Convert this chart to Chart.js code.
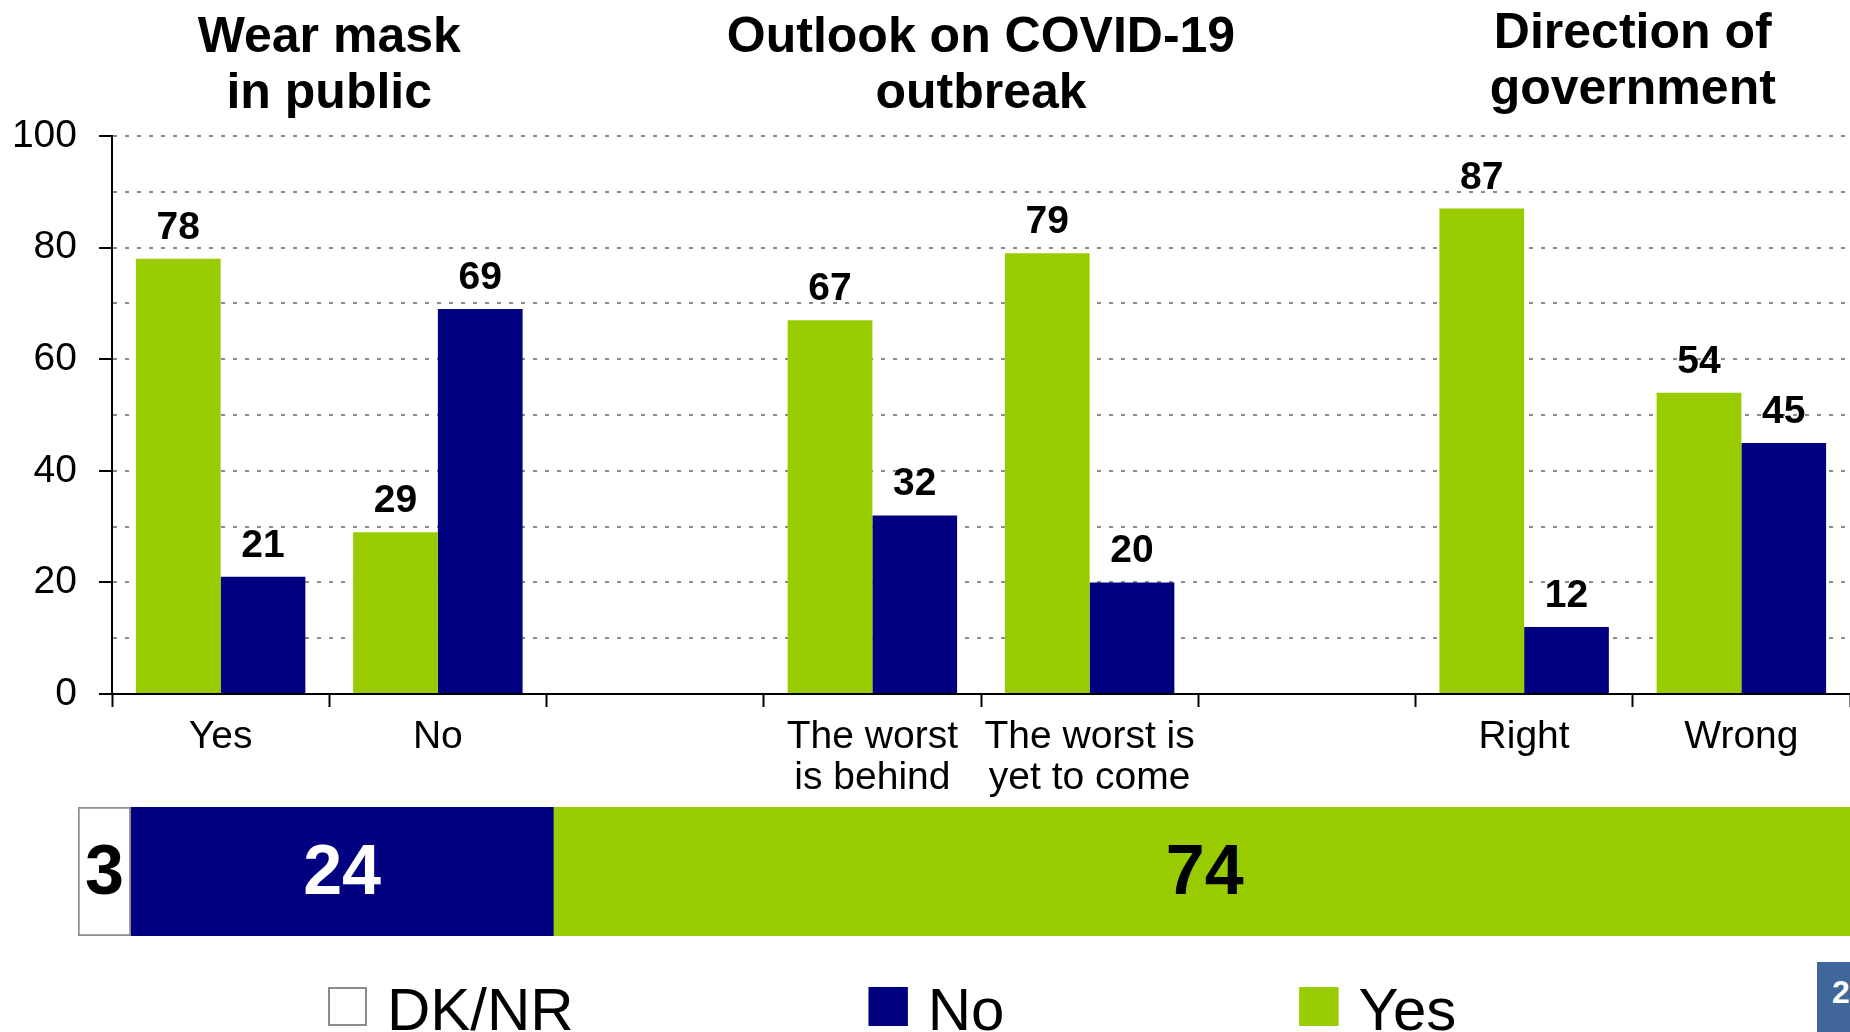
<!DOCTYPE html>
<html>
<head>
<meta charset="utf-8">
<title>COVID-19 survey</title>
<script src="https://cdn.jsdelivr.net/npm/chart.js@4.4.1/dist/chart.umd.min.js"></script>
<style>
  html, body { margin: 0; padding: 0; background: #fff; overflow: hidden; width: 1850px; height: 1032px; }
  #top-wrap { position: absolute; left: 0; top: 0; width: 1850px; height: 800px; }
  #bottom-wrap { position: absolute; left: 0; top: 790px; width: 1856px; height: 242px; }
  #page-num {
    position: absolute; left: 1817px; top: 962px; width: 60px; height: 70px;
    background: #41679a; color: #fff; font: bold 32px "Liberation Sans", Arial, sans-serif;
    padding-left: 15px; padding-top: 12px; box-sizing: border-box;
  }
</style>
</head>
<body>
<div id="top-wrap"><canvas id="groups" width="1850" height="800"></canvas></div>
<div id="bottom-wrap"><canvas id="overall" width="1856" height="242"></canvas></div>
<div id="page-num">2</div>

<script>
// Question groups and answers
const categories = ['Yes', 'No', '', ['The worst', 'is behind'], ['The worst is', 'yet to come'], '', 'Right', 'Wrong'];
const yesValues = [78, 29, null, 67, 79, null, 87, 54];
const noValues = [21, 69, null, 32, 20, null, 12, 45];
const groupTitles = [['Wear mask', 'in public'], ['Outlook on COVID-19', 'outbreak'], ['Direction of', 'government']];
const groupFirstCategory = [0, 3, 6];
const yTickLabels = [0, 20, 40, 60, 80, 100];

// Overall split (stacked bar)
const overallLabels = ['DK/NR', 'No', 'Yes'];
const overallValues = [3, 24, 74];

const GREEN = '#99cc00';
const NAVY = '#000080';
const FONT = '"Liberation Sans", Arial, sans-serif';

Chart.defaults.font.family = FONT;
Chart.defaults.color = '#000';

// titles above each pair of questions
const groupTitlePlugin = {
  id: 'groupTitles',
  afterDraw(chart) {
    const ctx = chart.ctx;
    const x = chart.scales.x;
    const baselines = [52, 52, 48];
    ctx.save();
    ctx.font = 'bold 50px ' + FONT;
    ctx.fillStyle = '#000';
    ctx.textAlign = 'center';
    ctx.textBaseline = 'alphabetic';
    groupTitles.forEach((lines, i) => {
      const first = groupFirstCategory[i];
      const cx = (x.getPixelForValue(first) + x.getPixelForValue(first + 1)) / 2;
      lines.forEach((line, j) => ctx.fillText(line, cx, baselines[i] + j * 56));
    });
    ctx.restore();
  }
};

// numbers on top of the bars
const barValuePlugin = {
  id: 'barValues',
  afterDatasetsDraw(chart) {
    const ctx = chart.ctx;
    ctx.save();
    ctx.font = 'bold 39px ' + FONT;
    ctx.fillStyle = '#000';
    ctx.textAlign = 'center';
    ctx.textBaseline = 'alphabetic';
    chart.data.datasets.forEach((ds, di) => {
      chart.getDatasetMeta(di).data.forEach((bar, i) => {
        const v = ds.data[i];
        if (v == null) return;
        ctx.fillText(String(v), bar.x, bar.y - 20);
      });
    });
    ctx.restore();
  }
};

new Chart(document.getElementById('groups'), {
  type: 'bar',
  data: {
    labels: categories,
    datasets: [
      { label: 'Yes', data: yesValues, backgroundColor: GREEN },
      { label: 'No', data: noValues, backgroundColor: NAVY }
    ]
  },
  options: {
    responsive: false,
    animation: false,
    layout: { padding: { top: 136, right: 0, bottom: 0, left: 0 } },
    datasets: { bar: { categoryPercentage: 0.78, barPercentage: 1 } },
    plugins: { legend: { display: false }, tooltip: { enabled: false } },
    scales: {
      x: {
        afterFit(scale) { scale.height = 106; },
        grid: { drawOnChartArea: false, offset: true, tickLength: 13, tickColor: '#000', tickWidth: 2 },
        border: { color: '#000', width: 2 },
        ticks: { font: { size: 39, lineHeight: 1.05 }, color: '#000', padding: 10, maxRotation: 0, autoSkip: false }
      },
      y: {
        min: 0,
        max: 100,
        afterFit(scale) { scale.width = 112; },
        grid: {
          color: ctx => ctx.tick.value === 0 ? 'rgba(0,0,0,0)' : '#8c8c8c',
          lineWidth: 2,
          tickLength: 13,
          tickWidth: 2,
          tickColor: ctx => yTickLabels.includes(ctx.tick.value) ? '#000' : 'rgba(0,0,0,0)',
          tickBorderDash: []
        },
        border: { color: '#000', width: 2, dash: [4, 8] },
        ticks: {
          stepSize: 10,
          padding: 22,
          font: { size: 39 },
          color: '#000',
          callback: v => yTickLabels.includes(v) ? v : ''
        }
      }
    }
  },
  plugins: [groupTitlePlugin, barValuePlugin]
});

// labels inside the stacked segments + legend row underneath
const segmentLabelPlugin = {
  id: 'segmentLabels',
  afterDatasetsDraw(chart) {
    const ctx = chart.ctx;
    ctx.save();
    ctx.font = 'bold 70px ' + FONT;
    ctx.textAlign = 'center';
    ctx.textBaseline = 'middle';
    chart.data.datasets.forEach((ds, di) => {
      const bar = chart.getDatasetMeta(di).data[0];
      ctx.fillStyle = ds.labelColor;
      ctx.fillText(String(ds.data[0]), (bar.x + bar.base) / 2, bar.y + 3);
    });
    ctx.restore();
  }
};

const bottomLegendPlugin = {
  id: 'bottomLegend',
  afterDraw(chart) {
    const ctx = chart.ctx;
    const boxTop = 197, box = 39, textGap = 20, itemGap = 295, baseline = 240;
    let x = 328;
    ctx.save();
    ctx.font = '60px ' + FONT;
    ctx.textBaseline = 'alphabetic';
    ctx.textAlign = 'left';
    chart.data.datasets.forEach(ds => {
      ctx.fillStyle = ds.backgroundColor;
      ctx.fillRect(x, boxTop, box, box);
      ctx.lineWidth = 2;
      ctx.strokeStyle = ds.borderWidth ? ds.borderColor : ds.backgroundColor;
      ctx.strokeRect(x + 1, boxTop + 1, box - 2, box - 2);
      ctx.fillStyle = '#000';
      ctx.fillText(ds.label, x + box + textGap, baseline);
      x += box + textGap + ctx.measureText(ds.label).width + itemGap;
    });
    ctx.restore();
  }
};

const overallColors = ['#ffffff', NAVY, GREEN];
const overallText = ['#000', '#fff', '#000'];

new Chart(document.getElementById('overall'), {
  type: 'bar',
  data: {
    labels: ['All'],
    datasets: overallLabels.map((label, i) => ({
      label: label,
      data: [overallValues[i]],
      backgroundColor: overallColors[i],
      borderColor: '#8c8c8c',
      borderWidth: i === 0 ? 2 : 0,
      borderSkipped: false,
      labelColor: overallText[i]
    }))
  },
  options: {
    indexAxis: 'y',
    responsive: false,
    animation: false,
    layout: { padding: { top: 17, right: 0, bottom: 96, left: 78 } },
    datasets: { bar: { categoryPercentage: 1, barPercentage: 1 } },
    plugins: { legend: { display: false }, tooltip: { enabled: false } },
    scales: {
      x: { stacked: true, display: false, min: 0, max: 101 },
      y: { stacked: true, display: false }
    }
  },
  plugins: [segmentLabelPlugin, bottomLegendPlugin]
});
</script>
</body>
</html>
